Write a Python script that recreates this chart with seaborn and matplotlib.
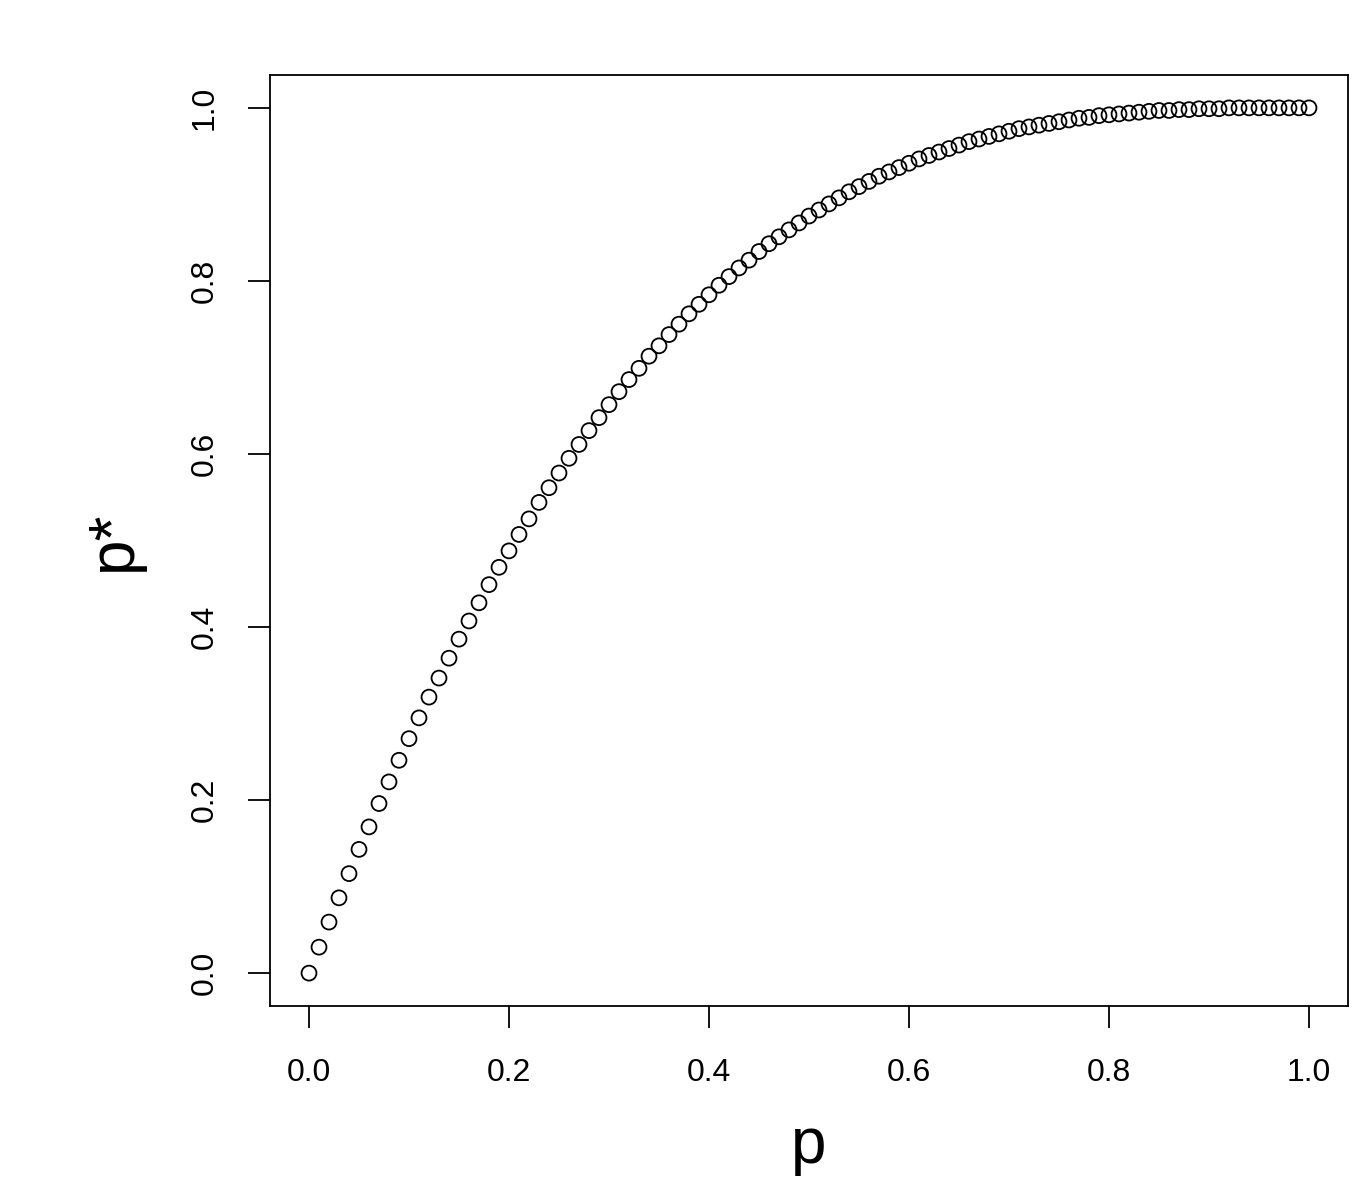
import matplotlib
matplotlib.use("Agg")
import matplotlib.pyplot as plt
import seaborn as sns
import pandas as pd

# p values along the x axis (steps of 0.01)
p = [0.00, 0.01, 0.02, 0.03, 0.04, 0.05, 0.06, 0.07, 0.08, 0.09,
     0.10, 0.11, 0.12, 0.13, 0.14, 0.15, 0.16, 0.17, 0.18, 0.19,
     0.20, 0.21, 0.22, 0.23, 0.24, 0.25, 0.26, 0.27, 0.28, 0.29,
     0.30, 0.31, 0.32, 0.33, 0.34, 0.35, 0.36, 0.37, 0.38, 0.39,
     0.40, 0.41, 0.42, 0.43, 0.44, 0.45, 0.46, 0.47, 0.48, 0.49,
     0.50, 0.51, 0.52, 0.53, 0.54, 0.55, 0.56, 0.57, 0.58, 0.59,
     0.60, 0.61, 0.62, 0.63, 0.64, 0.65, 0.66, 0.67, 0.68, 0.69,
     0.70, 0.71, 0.72, 0.73, 0.74, 0.75, 0.76, 0.77, 0.78, 0.79,
     0.80, 0.81, 0.82, 0.83, 0.84, 0.85, 0.86, 0.87, 0.88, 0.89,
     0.90, 0.91, 0.92, 0.93, 0.94, 0.95, 0.96, 0.97, 0.98, 0.99,
     1.00]

# p* values read from the points
p_star = [0.000, 0.030, 0.059, 0.087, 0.115, 0.143, 0.169, 0.196, 0.221, 0.246,
          0.271, 0.295, 0.319, 0.341, 0.364, 0.386, 0.407, 0.428, 0.449, 0.469,
          0.488, 0.507, 0.525, 0.544, 0.561, 0.578, 0.595, 0.611, 0.627, 0.642,
          0.657, 0.672, 0.686, 0.699, 0.713, 0.725, 0.738, 0.750, 0.762, 0.773,
          0.784, 0.795, 0.805, 0.815, 0.824, 0.834, 0.843, 0.851, 0.859, 0.867,
          0.875, 0.882, 0.889, 0.896, 0.903, 0.909, 0.915, 0.921, 0.926, 0.931,
          0.936, 0.941, 0.945, 0.949, 0.953, 0.957, 0.961, 0.964, 0.967, 0.970,
          0.973, 0.976, 0.978, 0.980, 0.982, 0.984, 0.986, 0.988, 0.989, 0.991,
          0.992, 0.993, 0.994, 0.995, 0.996, 0.997, 0.997, 0.998, 0.998, 0.999,
          0.999, 0.999, 1.000, 1.000, 1.000, 1.000, 1.000, 1.000, 1.000, 1.000,
          1.000]

x_ticks = [0.0, 0.2, 0.4, 0.6, 0.8, 1.0]
y_ticks = [0.0, 0.2, 0.4, 0.6, 0.8, 1.0]

df = pd.DataFrame({"p": p, "p_star": p_star})

sns.set_style("ticks")
plt.rcParams["font.family"] = ["Liberation Sans", "DejaVu Sans"]
plt.rcParams["text.color"] = "black"
plt.rcParams["axes.labelcolor"] = "black"

fig = plt.figure(figsize=(13.66, 11.99), dpi=100)
ax = fig.add_axes([270 / 1366, 1 - 1006 / 1199, 1078 / 1366, 931 / 1199])

sns.scatterplot(data=df, x="p", y="p_star", ax=ax, marker="o", s=115,
                facecolor="none", edgecolor="black", linewidth=1.3)

ax.set_xlim(-0.039, 1.039)
ax.set_ylim(-0.038, 1.038)
ax.set_xticks(x_ticks)
ax.set_yticks(y_ticks)
ax.set_xticklabels([f"{t:.1f}" for t in x_ticks])
ax.set_yticklabels([f"{t:.1f}" for t in y_ticks], rotation=90, va="center")

for side in ax.spines.values():
    side.set_visible(True)
    side.set_linewidth(1.3)
    side.set_color("black")

ax.tick_params(axis="both", direction="out", length=15.5, width=1.3,
               labelsize=23, colors="black")
ax.tick_params(axis="x", pad=22)
ax.tick_params(axis="y", pad=21)

ax.set_xlabel("p", fontsize=46, labelpad=20, color="black")
ax.set_ylabel("p*", fontsize=46, labelpad=33, color="black")

fig.savefig("out.png", dpi=100, facecolor="white")
